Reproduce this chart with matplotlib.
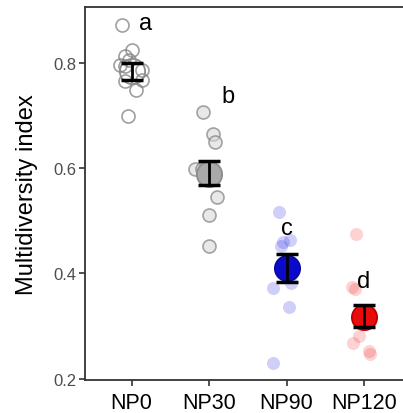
import matplotlib
matplotlib.use("Agg")
import matplotlib.pyplot as plt

plt.rcParams['font.family'] = ['Liberation Sans', 'DejaVu Sans']

groups = ['NP0', 'NP30', 'NP90', 'NP120']
letters = ['a', 'b', 'c', 'd']

# jittered raw points (x position, value)
np0_x = [0.88, 1.01, 0.92, 0.97, 0.85, 0.91, 1.13, 1.14, 0.91, 1.06, 0.95]
np0_y = [0.872, 0.825, 0.812, 0.806, 0.796, 0.793, 0.787, 0.768, 0.765, 0.749, 0.699]
np30_x = [1.92, 2.05, 2.08, 1.82, 1.91, 2.10, 2.00, 2.00]
np30_y = [0.706, 0.664, 0.650, 0.598, 0.598, 0.545, 0.511, 0.453]
np90_x = [2.90, 2.95, 3.04, 2.93, 2.82, 3.06, 3.03, 2.83]
np90_y = [0.516, 0.460, 0.463, 0.453, 0.373, 0.381, 0.337, 0.230]
np120_x = [3.90, 3.84, 3.88, 3.86, 3.94, 4.06, 4.08]
np120_y = [0.474, 0.375, 0.370, 0.268, 0.281, 0.252, 0.247]

means = [0.784, 0.589, 0.410, 0.318]
se_low = [0.768, 0.567, 0.384, 0.298]
se_high = [0.800, 0.614, 0.436, 0.340]

letter_x = [1.18, 2.25, 3.0, 3.99]
letter_y = [0.875, 0.736, 0.487, 0.385]

pts = [(np0_x, np0_y), (np30_x, np30_y), (np90_x, np90_y), (np120_x, np120_y)]
pt_face = [(1, 1, 1, 0), (0.85, 0.85, 0.85, 0.6), (0.15, 0.15, 0.9, 0.22), (0.95, 0.2, 0.2, 0.22)]
pt_edge = [(0.5, 0.5, 0.5, 0.75), (0.5, 0.5, 0.5, 0.7), (0, 0, 0, 0), (0, 0, 0, 0)]
mean_face = [(1, 1, 1, 0), '#a9a9a9', '#0a0acd', '#e80c0c']
mean_edge = ['#8c8c8c', '#8c8c8c', '#0a0a9a', '#c00000']

fig = plt.figure(figsize=(4.03, 4.14), dpi=100)
ax = fig.add_axes([0.211, 0.08, 0.808, 0.901])

for i, (xs, ys) in enumerate(pts):
    ax.scatter(xs, ys, s=88, facecolors=[pt_face[i]], edgecolors=[pt_edge[i]],
               linewidths=1.2, zorder=2)
    xm = i + 1
    ax.scatter([xm], [means[i]], s=330, facecolors=[mean_face[i]],
               edgecolors=mean_edge[i], linewidths=1.3, zorder=3)
    ax.errorbar([xm], [means[i]],
                yerr=[[means[i] - se_low[i]], [se_high[i] - means[i]]],
                fmt='none', ecolor='black', elinewidth=2, capsize=8,
                capthick=2.5, zorder=4)
    ax.text(letter_x[i], letter_y[i], letters[i], fontsize=17,
            ha='center', va='center', color='black')

ax.set_xlim(0.4, 4.6)
ax.set_ylim(0.198, 0.906)
ax.set_xticks([1, 2, 3, 4])
ax.set_xticklabels(groups)
ax.set_yticks([0.2, 0.4, 0.6, 0.8])
ax.set_yticklabels(['0.2', '0.4', '0.6', '0.8'])
ax.tick_params(axis='x', labelsize=15.5, colors='#333333', labelcolor='black',
               length=4.5, width=1.2, pad=4)
ax.tick_params(axis='y', labelsize=12, colors='#333333', labelcolor='#4d4d4d',
               length=4.5, width=1.2, pad=2)
for sp in ax.spines.values():
    sp.set_color('#333333')
    sp.set_linewidth(1.3)
ax.set_ylabel('Multidiversity index', fontsize=17, labelpad=11)

fig.savefig('out.png', dpi=100)
